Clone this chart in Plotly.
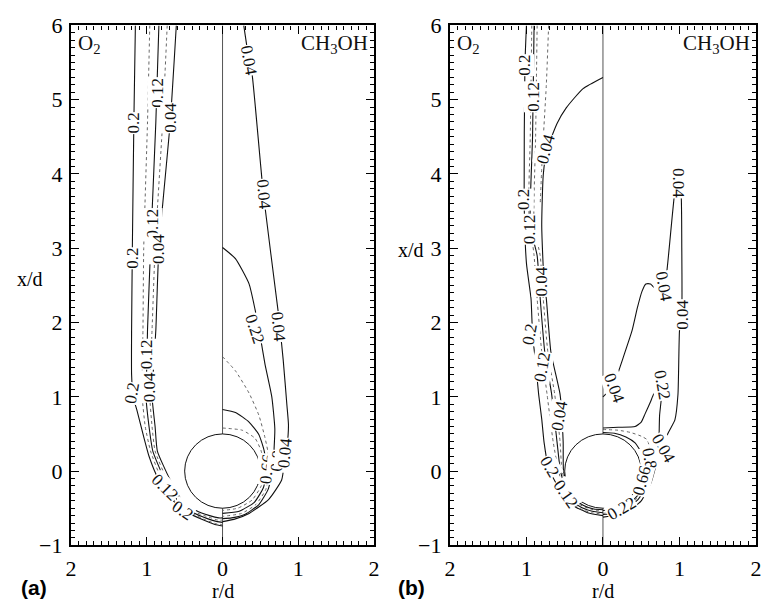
import plotly.graph_objects as go

# ---------------------------------------------------------------
# Mass-fraction contours around a burning droplet (d = diameter).
# Left half of each panel: O2, right half: CH3OH.
# Coordinates are (r/d, x/d); O2 contours use negative r/d.
# ---------------------------------------------------------------

R_TICKS = [-2, -1, 0, 1, 2]
R_TICK_TEXT = ["2", "1", "0", "1", "2"]
X_TICKS = [-1, 0, 1, 2, 3, 4, 5, 6]
DROPLET_RADIUS = 0.5

# ----------------------------- case (a) -----------------------------
# O2 side
A_O2_020_R = [-1.15, -1.17, -1.19, -1.20, -1.20, -1.18, -1.13, -1.05, -0.97, -0.85, -0.67, -0.45, -0.25, -0.10, 0.0]
A_O2_020_X = [6.0, 4.7, 3.0, 1.9, 1.3, 1.0, 0.82, 0.5, 0.2, -0.1, -0.38, -0.56, -0.66, -0.72, -0.74]
A_O2_016_R = [-0.96, -0.99, -1.04, -1.05, -1.06, -1.06, -1.02, -0.95, -0.81, -0.63, -0.42, -0.22, -0.08, 0.0]
A_O2_016_X = [6.0, 4.7, 3.0, 1.9, 1.4, 1.0, 0.6, 0.27, -0.1, -0.4, -0.56, -0.66, -0.71, -0.72]
A_O2_012_R = [-0.84, -0.88, -0.95, -0.99, -1.00, -1.01, -0.97, -0.92, -0.77, -0.59, -0.40, -0.20, -0.07, 0.0]
A_O2_012_X = [6.0, 4.7, 3.0, 1.9, 1.4, 1.0, 0.6, 0.27, -0.1, -0.4, -0.55, -0.64, -0.68, -0.69]
A_O2_008_R = [-0.73, -0.79, -0.89, -0.93, -0.95, -0.96, -0.93, -0.89, -0.74, -0.56, -0.37, -0.18, -0.06, 0.0]
A_O2_008_X = [6.0, 4.7, 3.0, 1.9, 1.4, 1.0, 0.6, 0.27, -0.1, -0.4, -0.55, -0.62, -0.66, -0.66]
A_O2_004_R = [-0.61, -0.69, -0.84, -0.88, -0.91, -0.93, -0.89, -0.86, -0.70, -0.53, -0.35, -0.17, -0.05, 0.0]
A_O2_004_X = [6.0, 4.7, 3.0, 1.9, 1.4, 1.0, 0.6, 0.27, -0.1, -0.4, -0.53, -0.60, -0.63, -0.63]

# CH3OH side
A_CH_004_R = [0.28, 0.35, 0.39, 0.54, 0.74, 0.80, 0.85, 0.87, 0.85, 0.82, 0.78, 0.61, 0.35, 0.15, 0.0]
A_CH_004_X = [6.0, 5.53, 5.34, 3.72, 2.1, 1.5, 0.88, 0.62, 0.32, 0.14, -0.12, -0.38, -0.57, -0.65, -0.68]
A_CH_022_R = [0.0, 0.17, 0.35, 0.43, 0.50, 0.56, 0.65, 0.69, 0.68, 0.66, 0.60, 0.48, 0.30, 0.12, 0.0]
A_CH_022_X = [3.01, 2.86, 2.52, 2.17, 1.8, 1.44, 1.0, 0.57, 0.3, 0.0, -0.25, -0.45, -0.58, -0.63, -0.64]
A_CH_044_R = [0.0, 0.17, 0.35, 0.48, 0.56, 0.61, 0.62, 0.57, 0.44, 0.25, 0.0]
A_CH_044_X = [1.54, 1.35, 1.05, 0.75, 0.45, 0.2, 0.0, -0.25, -0.45, -0.57, -0.61]
A_CH_066_R = [0.0, 0.17, 0.35, 0.48, 0.55, 0.58, 0.54, 0.42, 0.22, 0.0]
A_CH_066_X = [0.83, 0.79, 0.66, 0.49, 0.27, 0.0, -0.22, -0.42, -0.54, -0.57]
A_CH_080_R = [0.0, 0.26, 0.43, 0.51, 0.55, 0.51, 0.39, 0.20, 0.0]
A_CH_080_X = [0.58, 0.55, 0.44, 0.27, 0.0, -0.2, -0.39, -0.50, -0.53]

A_LABEL_TEXT = ["0.2", "0.12", "0.04", "0.2", "0.12", "0.04", "0.12", "0.04", "0.2",
                "0.12", "0.2",
                "0.04", "0.04", "0.22", "0.04", "0.66", "0.8", "0.04"]
A_LABEL_R = [-1.17, -0.86, -0.69, -1.18, -0.92, -0.84, -1.00, -0.97, -1.20,
             -0.76, -0.53,
             0.35, 0.54, 0.43, 0.74, 0.59, 0.72, 0.82]
A_LABEL_X = [4.69, 5.10, 4.76, 2.86, 3.33, 2.99, 1.57, 1.13, 1.05,
             -0.22, -0.53,
             5.53, 3.72, 1.91, 1.95, 0.03, 0.13, 0.24]
A_LABEL_ANGLE = [-90, -90, -90, -90, -90, -90, -90, -90, -80,
                 45, 35,
                 80, 85, 72, 85, -85, -85, -85]

# ----------------------------- case (b) -----------------------------
# O2 side
B_O2_020_R = [-1.00, -1.02, -1.03, -1.00, -0.94, -0.92, -0.88, -0.84, -0.80, -0.77, -0.71, -0.62, -0.52, -0.38, -0.20, 0.0]
B_O2_020_X = [6.0, 5.46, 3.65, 2.8, 2.32, 1.84, 1.46, 1.03, 0.7, 0.39, 0.04, -0.15, -0.32, -0.47, -0.56, -0.60]
B_O2_016_R = [-0.93, -0.95, -0.97, -0.90, -0.86, -0.80, -0.73, -0.65, -0.58, -0.50, -0.41, -0.29, -0.15, 0.0]
B_O2_016_X = [6.0, 4.5, 3.5, 2.9, 2.32, 1.6, 1.03, 0.39, 0.0, -0.28, -0.42, -0.51, -0.56, -0.58]
B_O2_012_R = [-0.90, -0.92, -0.95, -0.86, -0.82, -0.76, -0.67, -0.60, -0.555, -0.48, -0.39, -0.28, -0.14, 0.0]
B_O2_012_X = [6.0, 4.5, 3.3, 2.9, 2.32, 1.6, 1.03, 0.39, 0.0, -0.26, -0.41, -0.49, -0.54, -0.56]
B_O2_008_R = [-0.86, -0.88, -0.90, -0.82, -0.78, -0.72, -0.63, -0.56, -0.535, -0.46, -0.37, -0.27, -0.13, 0.0]
B_O2_008_X = [6.0, 4.5, 3.3, 2.9, 2.32, 1.6, 1.03, 0.39, 0.0, -0.25, -0.40, -0.47, -0.52, -0.54]
B_O2_006_R = [-0.71, -0.74, -0.79, -0.82]
B_O2_006_X = [6.0, 5.2, 4.3, 3.6]
B_O2_004_R = [0.0, -0.26, -0.48, -0.60, -0.73, -0.78, -0.80, -0.77, -0.74, -0.68, -0.56, -0.52, -0.515, -0.45, -0.36, -0.26, -0.12, 0.0]
B_O2_004_X = [5.30, 5.15, 4.89, 4.68, 4.33, 3.99, 3.3, 2.55, 2.32, 1.6, 1.03, 0.39, 0.0, -0.24, -0.38, -0.46, -0.51, -0.52]

# CH3OH side
B_CH_004_R = [0.0, 0.15, 0.20, 0.38, 0.45, 0.51, 0.56, 0.62, 0.70, 0.76, 0.79, 0.83, 0.94, 0.98, 1.02, 1.03, 1.03, 1.00, 0.98, 0.94, 0.85, 0.77, 0.70, 0.63, 0.50, 0.30, 0.0]
B_CH_004_X = [1.0, 1.16, 1.33, 1.89, 2.2, 2.42, 2.52, 2.52, 2.44, 2.40, 2.48, 2.65, 3.77, 3.93, 3.75, 3.0, 2.15, 1.89, 1.03, 0.69, 0.51, 0.30, 0.1, -0.15, -0.40, -0.56, -0.62]
B_CH_022_R = [0.0, 0.20, 0.42, 0.50, 0.55, 0.62, 0.66, 0.72, 0.77, 0.76, 0.74, 0.73, 0.70, 0.60, 0.46, 0.28, 0.12, 0.0]
B_CH_022_X = [0.58, 0.59, 0.60, 0.66, 0.77, 0.93, 1.03, 1.12, 1.16, 0.95, 0.75, 0.39, 0.15, -0.15, -0.38, -0.52, -0.57, -0.585]
B_CH_044_R = [0.0, 0.20, 0.36, 0.50, 0.58, 0.62, 0.60, 0.52, 0.38, 0.20, 0.0]
B_CH_044_X = [0.56, 0.55, 0.52, 0.47, 0.42, 0.25, 0.0, -0.25, -0.44, -0.54, -0.57]
B_CH_066_R = [0.0, 0.15, 0.30, 0.42, 0.50, 0.55, 0.54, 0.46, 0.34, 0.18, 0.0]
B_CH_066_X = [0.52, 0.51, 0.46, 0.38, 0.25, 0.05, -0.15, -0.32, -0.44, -0.51, -0.53]

B_LABEL_TEXT = ["0.2", "0.12", "0.04", "0.2", "0.12", "0.04", "0.2", "0.12", "0.04", "0.2", "0.12",
                "0.04", "0.04", "0.04", "0.04", "0.22", "0.04", "0.8", "0.66", "0.22"]
B_LABEL_R = [-1.03, -0.90, -0.75, -1.03, -0.95, -0.80, -0.96, -0.80, -0.57, -0.70, -0.48,
             0.14, 0.79, 0.98, 1.04, 0.77, 0.79, 0.61, 0.51, 0.25]
B_LABEL_X = [5.46, 5.04, 4.33, 3.65, 3.26, 2.55, 1.84, 1.40, 0.75, 0.06, -0.31,
             1.12, 2.48, 3.88, 2.10, 1.16, 0.30, 0.17, -0.13, -0.51]
B_LABEL_ANGLE = [-90, -90, -75, -90, -90, -90, -80, -80, -80, 60, 55,
                 70, 80, 90, -90, 80, 60, 80, -75, -30]

# ------------------------------- figure -------------------------------
W, H = 763, 614
fig = go.Figure()

SOLID = dict(color="#111111", width=1.1, dash="solid")
DOTTED = dict(color="#666666", width=1.0, dash="dot")

panels = {
    "a": dict(xa="x", ya="y",
              lines=[(A_O2_020_R, A_O2_020_X, SOLID), (A_O2_016_R, A_O2_016_X, DOTTED),
                     (A_O2_012_R, A_O2_012_X, SOLID), (A_O2_008_R, A_O2_008_X, DOTTED),
                     (A_O2_004_R, A_O2_004_X, SOLID),
                     (A_CH_004_R, A_CH_004_X, SOLID), (A_CH_022_R, A_CH_022_X, SOLID),
                     (A_CH_044_R, A_CH_044_X, DOTTED), (A_CH_066_R, A_CH_066_X, SOLID),
                     (A_CH_080_R, A_CH_080_X, DOTTED)],
              labels=(A_LABEL_TEXT, A_LABEL_R, A_LABEL_X, A_LABEL_ANGLE)),
    "b": dict(xa="x2", ya="y2",
              lines=[(B_O2_020_R, B_O2_020_X, SOLID), (B_O2_016_R, B_O2_016_X, DOTTED),
                     (B_O2_012_R, B_O2_012_X, SOLID), (B_O2_008_R, B_O2_008_X, DOTTED),
                     (B_O2_006_R, B_O2_006_X, DOTTED), (B_O2_004_R, B_O2_004_X, SOLID),
                     (B_CH_004_R, B_CH_004_X, SOLID), (B_CH_022_R, B_CH_022_X, SOLID),
                     (B_CH_044_R, B_CH_044_X, DOTTED), (B_CH_066_R, B_CH_066_X, SOLID)],
              labels=(B_LABEL_TEXT, B_LABEL_R, B_LABEL_X, B_LABEL_ANGLE)),
}

SERIF = "Liberation Serif"
annotations = []
shapes = []

for key, p in panels.items():
    for r, x, style in p["lines"]:
        fig.add_trace(go.Scatter(
            x=r, y=x, mode="lines", line=dict(**style, shape="spline", smoothing=0.5),
            xaxis=p["xa"], yaxis=p["ya"], hoverinfo="skip", showlegend=False))

    # symmetry axis r/d = 0
    shapes.append(dict(type="line", xref=p["xa"], yref=p["ya"], x0=0, x1=0, y0=-1, y1=6,
                       line=dict(color="#555555", width=1), layer="below"))
    # droplet
    shapes.append(dict(type="circle", xref=p["xa"], yref=p["ya"],
                       x0=-DROPLET_RADIUS, x1=DROPLET_RADIUS, y0=-DROPLET_RADIUS, y1=DROPLET_RADIUS,
                       fillcolor="white", line=dict(color="#111111", width=1), layer="above"))

    texts, rs, xs, angles = p["labels"]
    for t, r, x, ang in zip(texts, rs, xs, angles):
        annotations.append(dict(text=t, x=r, y=x, xref=p["xa"], yref=p["ya"], showarrow=False,
                                textangle=ang, bgcolor="white", borderpad=0,
                                font=dict(family=SERIF, size=17, color="#111111")))

    annotations.append(dict(text="O<sub>2</sub>", x=-1.93, y=5.75, xref=p["xa"], yref=p["ya"],
                            xanchor="left", yanchor="middle", showarrow=False,
                            font=dict(family=SERIF, size=21, color="#111111")))
    annotations.append(dict(text="CH<sub>3</sub>OH", x=1.95, y=5.75, xref=p["xa"], yref=p["ya"],
                            xanchor="right", yanchor="middle", showarrow=False,
                            font=dict(family=SERIF, size=21, color="#111111")))

# axis titles and panel tags (paper coordinates)
def px_x(px):
    return px / W

def px_y(py):
    return 1 - py / H

for txt, cx in (("(a)", 28), ("(b)", 412)):
    annotations.append(dict(text=f"<b>{txt}</b>", x=px_x(cx), y=px_y(600), xref="paper", yref="paper",
                            showarrow=False, xanchor="center", yanchor="middle",
                            font=dict(family="Liberation Sans", size=21, color="black")))
for cx in (220, 607):
    annotations.append(dict(text="r/d", x=px_x(cx), y=px_y(604), xref="paper", yref="paper",
                            showarrow=False, xanchor="center", yanchor="middle",
                            font=dict(family=SERIF, size=20, color="black")))
for cx, cy in ((24, 278), (411, 248)):
    annotations.append(dict(text="x/d", x=px_x(cx), y=px_y(cy), xref="paper", yref="paper",
                            showarrow=False, xanchor="center", yanchor="middle",
                            font=dict(family=SERIF, size=20, color="black")))

Y_DOM = [px_y(556), px_y(14)]

def xaxis(dom, anchor):
    return dict(domain=dom, anchor=anchor, range=[-2, 2], tickmode="array",
                tickvals=R_TICKS, ticktext=R_TICK_TEXT, ticks="inside", ticklen=8,
                tickwidth=1.2, tickcolor="black", showline=True, linewidth=2.2, linecolor="black",
                mirror="allticks", showgrid=False, zeroline=False, ticklabelstandoff=2,
                minor=dict(ticks="inside", ticklen=4, dtick=0.1, tick0=0, tickcolor="black", tickwidth=1),
                tickfont=dict(family=SERIF, size=22, color="black"))

def yaxis(anchor):
    return dict(domain=Y_DOM, anchor=anchor, range=[-1, 6], tickmode="array",
                tickvals=X_TICKS, ticks="inside", ticklen=8, tickwidth=1.2, tickcolor="black",
                showline=True, linewidth=2.2, linecolor="black", mirror="allticks",
                showgrid=False, zeroline=False, ticklabelstandoff=2,
                minor=dict(ticks="inside", ticklen=4, dtick=0.1, tick0=0, tickcolor="black", tickwidth=1),
                tickfont=dict(family=SERIF, size=22, color="black"))

fig.update_layout(
    width=W, height=H,
    margin=dict(l=0, r=0, t=0, b=0),
    paper_bgcolor="white", plot_bgcolor="white",
    xaxis=xaxis([px_x(66), px_x(374)], "y"),
    yaxis=yaxis("x"),
    xaxis2=xaxis([px_x(451), px_x(762)], "y2"),
    yaxis2=yaxis("x2"),
    shapes=shapes,
    annotations=annotations,
    showlegend=False,
)

fig.write_html("out.html")
